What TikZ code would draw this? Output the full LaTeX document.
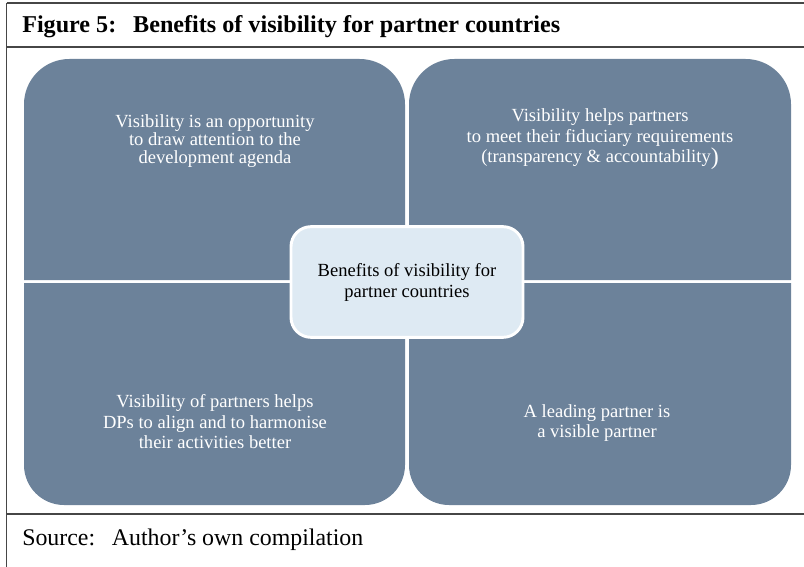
\documentclass[tikz,border=0pt]{standalone}
\usepackage{fontspec}
\setmainfont{Liberation Serif}
\usepackage{tikz}
\usetikzlibrary{positioning}
\definecolor{quadfill}{RGB}{108,130,154}
\definecolor{hubfill}{RGB}{222,234,243}
\definecolor{framegray}{RGB}{70,70,70}
\tikzset{
  quad/.style={fill=quadfill,draw=none},
  quadtext/.style={text=white,align=center,font=\fontsize{13.9}{15.4}\selectfont,inner sep=0},
  hub/.style={draw=white,line width=2.2pt,fill=hubfill,rounded corners=15pt,minimum width=174pt,minimum height=83pt,align=center,font=\fontsize{13.9}{15.8}\selectfont}
}
\begin{document}
\begin{tikzpicture}[x=0.75pt,y=-0.75pt]
	\useasboundingbox (0,0) rectangle (804,567);
	% frame
	\draw[framegray,line width=1.6pt] (6.5,3) -- (804,3);
	\draw[framegray,line width=0.9pt] (6.5,3) -- (6.5,567);
	\draw[framegray,line width=0.9pt] (6.5,47) -- (804,47);
	\draw[framegray,line width=0.9pt] (6.5,514) -- (804,514);
	\node (title) [anchor=west,font=\fontsize{18.1}{19}\selectfont\bfseries,inner sep=0] at (22,27) {Figure 5:\hspace{0.7em}Benefits of visibility for partner countries};
	\node (source) [anchor=west,font=\fontsize{17.9}{19}\selectfont,inner sep=0] at (22,540) {Source:\hspace{0.7em}Author’s own compilation};
	% quadrants
	\fill[quad,rounded corners=34pt] (24,280) -- (24,59) -- (405,59) [sharp corners] -- (405,280) -- cycle;
	\fill[quad,rounded corners=34pt] (791,280) -- (791,59) -- (409,59) [sharp corners] -- (409,280) -- cycle;
	\fill[quad,rounded corners=30pt] (24,283) -- (24,505) -- (405,505) [sharp corners] -- (405,283) -- cycle;
	\fill[quad,rounded corners=30pt] (791,283) -- (791,505) -- (409,505) [sharp corners] -- (409,283) -- cycle;
	\node (tl) [quadtext,font=\fontsize{13.9}{13.3}\selectfont] at (215,141) {Visibility is an opportunity\\to draw attention to the\\development agenda};
	\node (tr) [quadtext] at (600,139) {Visibility helps partners\\to meet their fiduciary requirements\\(transparency \& accountability\raisebox{-1pt}{\fontsize{18}{18}\selectfont)}};
	\node (bl) [quadtext] at (215,422) {Visibility of partners helps\\DPs to align and to harmonise\\their activities better};
	\node (br) [quadtext] at (597,423) {A leading partner is\\a visible partner};
	% centre
	\node (hub) [hub] at (407,282) {Benefits of visibility for\\partner countries};
\end{tikzpicture}
\end{document}
